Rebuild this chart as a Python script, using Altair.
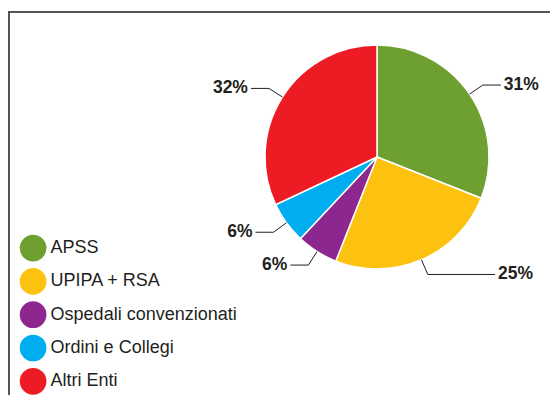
import altair as alt
import pandas as pd

categories = ["APSS", "UPIPA + RSA", "Ospedali convenzionati", "Ordini e Collegi", "Altri Enti"]
values = [31, 25, 6, 6, 32]
labels = ["31%", "25%", "6%", "6%", "32%"]
colors = ["#6d9f31", "#fdc210", "#8d278f", "#00aeef", "#ed1c24"]

df = pd.DataFrame({"cat": categories, "val": values, "label": labels, "idx": list(range(len(values)))})

W, H = 542, 387
CX, CY, R = 369, 149, 112
R_ELBOW = 128
HLEN = 18
GAP = 3
RIGHT_COL = CX + R + 6
INK = "#231f20"
FONT = "Liberation Sans"

xs = alt.Scale(domain=[0, W], range=[0, W])
ys = alt.Scale(domain=[0, H], range=[0, H])

base = (
    alt.Chart(df)
    .transform_joinaggregate(total="sum(val)")
    .transform_window(cum="sum(val)", sort=[alt.SortField("idx")], frame=[None, 0])
    .transform_calculate(
        mid="(datum.cum - datum.val / 2) / datum.total * 2 * PI",
    )
    .transform_calculate(s="sin(datum.mid)", c="cos(datum.mid)")
    .transform_calculate(
        ex=f"{CX} + {R} * datum.s",
        ey=f"{CY} - {R} * datum.c",
        bx=f"{CX} + {R_ELBOW} * datum.s",
        by=f"{CY} - {R_ELBOW} * datum.c",
        side="datum.s >= 0 ? 1 : -1",
    )
    .transform_calculate(
        hx=f"datum.side > 0 ? max(datum.bx + {HLEN}, {RIGHT_COL}) : datum.bx - {HLEN}"
    )
    .transform_calculate(tx=f"datum.hx + datum.side * {GAP}")
)

arc = alt.Chart(df).mark_arc(radius=R, stroke="white", strokeWidth=1.5).encode(
    theta=alt.Theta("val:Q", stack=True),
    color=alt.Color(
        "cat:N",
        scale=alt.Scale(domain=categories, range=colors),
        legend=alt.Legend(
            orient="none",
            legendX=11.6,
            legendY=226.6,
            title=None,
            symbolType="circle",
            symbolSize=713,
            symbolStrokeWidth=0,
            symbolOpacity=1,
            labelFontSize=18,
            labelFont=FONT,
            labelColor=INK,
            labelOffset=4,
            rowPadding=6.3,
            padding=0,
            labelLimit=400,
        ),
    ),
    order=alt.Order("idx:Q"),
    x=alt.value(CX),
    y=alt.value(CY),
)

lead1 = base.mark_rule(color=INK, strokeWidth=1).encode(
    x=alt.X("ex:Q", scale=xs, axis=None),
    y=alt.Y("ey:Q", scale=ys, axis=None),
    x2="bx:Q",
    y2="by:Q",
)
lead2 = base.mark_rule(color=INK, strokeWidth=1).encode(
    x=alt.X("bx:Q", scale=xs, axis=None),
    y=alt.Y("by:Q", scale=ys, axis=None),
    x2="hx:Q",
    y2="by:Q",
)

txt_kw = dict(baseline="middle", fontSize=17.5, fontWeight="bold", font=FONT, color=INK)
text_r = base.transform_filter("datum.side > 0").mark_text(align="left", **txt_kw).encode(
    x=alt.X("tx:Q", scale=xs, axis=None),
    y=alt.Y("by:Q", scale=ys, axis=None),
    text="label:N",
)
text_l = base.transform_filter("datum.side < 0").mark_text(align="right", **txt_kw).encode(
    x=alt.X("tx:Q", scale=xs, axis=None),
    y=alt.Y("by:Q", scale=ys, axis=None),
    text="label:N",
)

one = pd.DataFrame({"k": [0]})
border_top = alt.Chart(one).mark_rule(color="#555555", strokeWidth=2).encode(
    x=alt.value(0), x2=alt.value(W), y=alt.value(4)
)
border_left = alt.Chart(one).mark_rule(color="#555555", strokeWidth=2).encode(
    x=alt.value(1), y=alt.value(3), y2=alt.value(H)
)

chart = (
    alt.layer(arc, lead1, lead2, text_r, text_l, border_top, border_left)
    .properties(width=W, height=H, padding=0, autosize=alt.AutoSizeParams(type="none"))
    .configure_view(stroke=None)
)

chart.save("out.html", embed_options={"renderer": "svg", "actions": False})
